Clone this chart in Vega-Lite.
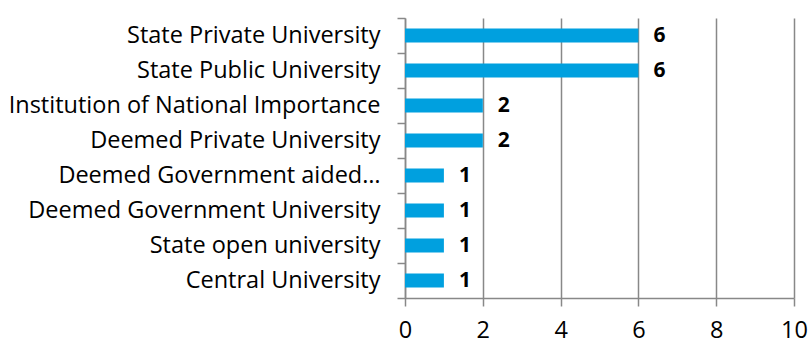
{
  "$schema": "https://vega.github.io/schema/vega-lite/v6.json",
  "width": 389,
  "height": 280,
  "autosize": {"type": "none"},
  "padding": {"left": 405, "top": 18, "right": 16, "bottom": 43},
  "background": "white",
  "config": {"view": {"stroke": null}, "font": "Open Sans"},
  "data": {"values": [
    {"type": "State Private University", "count": 6},
    {"type": "State Public University", "count": 6},
    {"type": "Institution of National Importance", "count": 2},
    {"type": "Deemed Private University", "count": 2},
    {"type": "Deemed Government aided…", "count": 1},
    {"type": "Deemed Government University", "count": 1},
    {"type": "State open university", "count": 1},
    {"type": "Central University", "count": 1}
  ]},
  "encoding": {
    "y": {"field": "type", "type": "nominal", "sort": null,
      "scale": {"paddingInner": 0, "paddingOuter": 0},
      "axis": {"title": null, "domainColor": "#888888", "domainWidth": 1.5, "tickColor": "#888888", "tickWidth": 1.5, "tickSize": 8, "tickBand": "extent", "labelPadding": 17, "labelFontSize": 23.5, "labelColor": "#000000", "labelLimit": 420, "labelFont": "Open Sans"}},
    "x": {"field": "count", "type": "quantitative",
      "scale": {"domain": [0, 10]},
      "axis": {"title": null, "values": [0, 2, 4, 6, 8, 10], "grid": true, "gridColor": "#888888", "gridWidth": 1.5, "domainColor": "#888888", "domainWidth": 1.5, "tickColor": "#888888", "tickWidth": 1.5, "tickSize": 8, "labelPadding": 12, "labelFontSize": 23.5, "labelColor": "#000000", "labelFont": "Open Sans", "labelFlush": false}}
  },
  "layer": [
    {"mark": {"type": "bar", "color": "#00A0DF", "height": {"band": 0.4}}},
    {"mark": {"type": "text", "align": "left", "dx": 15, "fontWeight": "bold", "fontSize": 21, "color": "#000000", "baseline": "middle"},
     "encoding": {"text": {"field": "count", "type": "quantitative"}}}
  ]
}
